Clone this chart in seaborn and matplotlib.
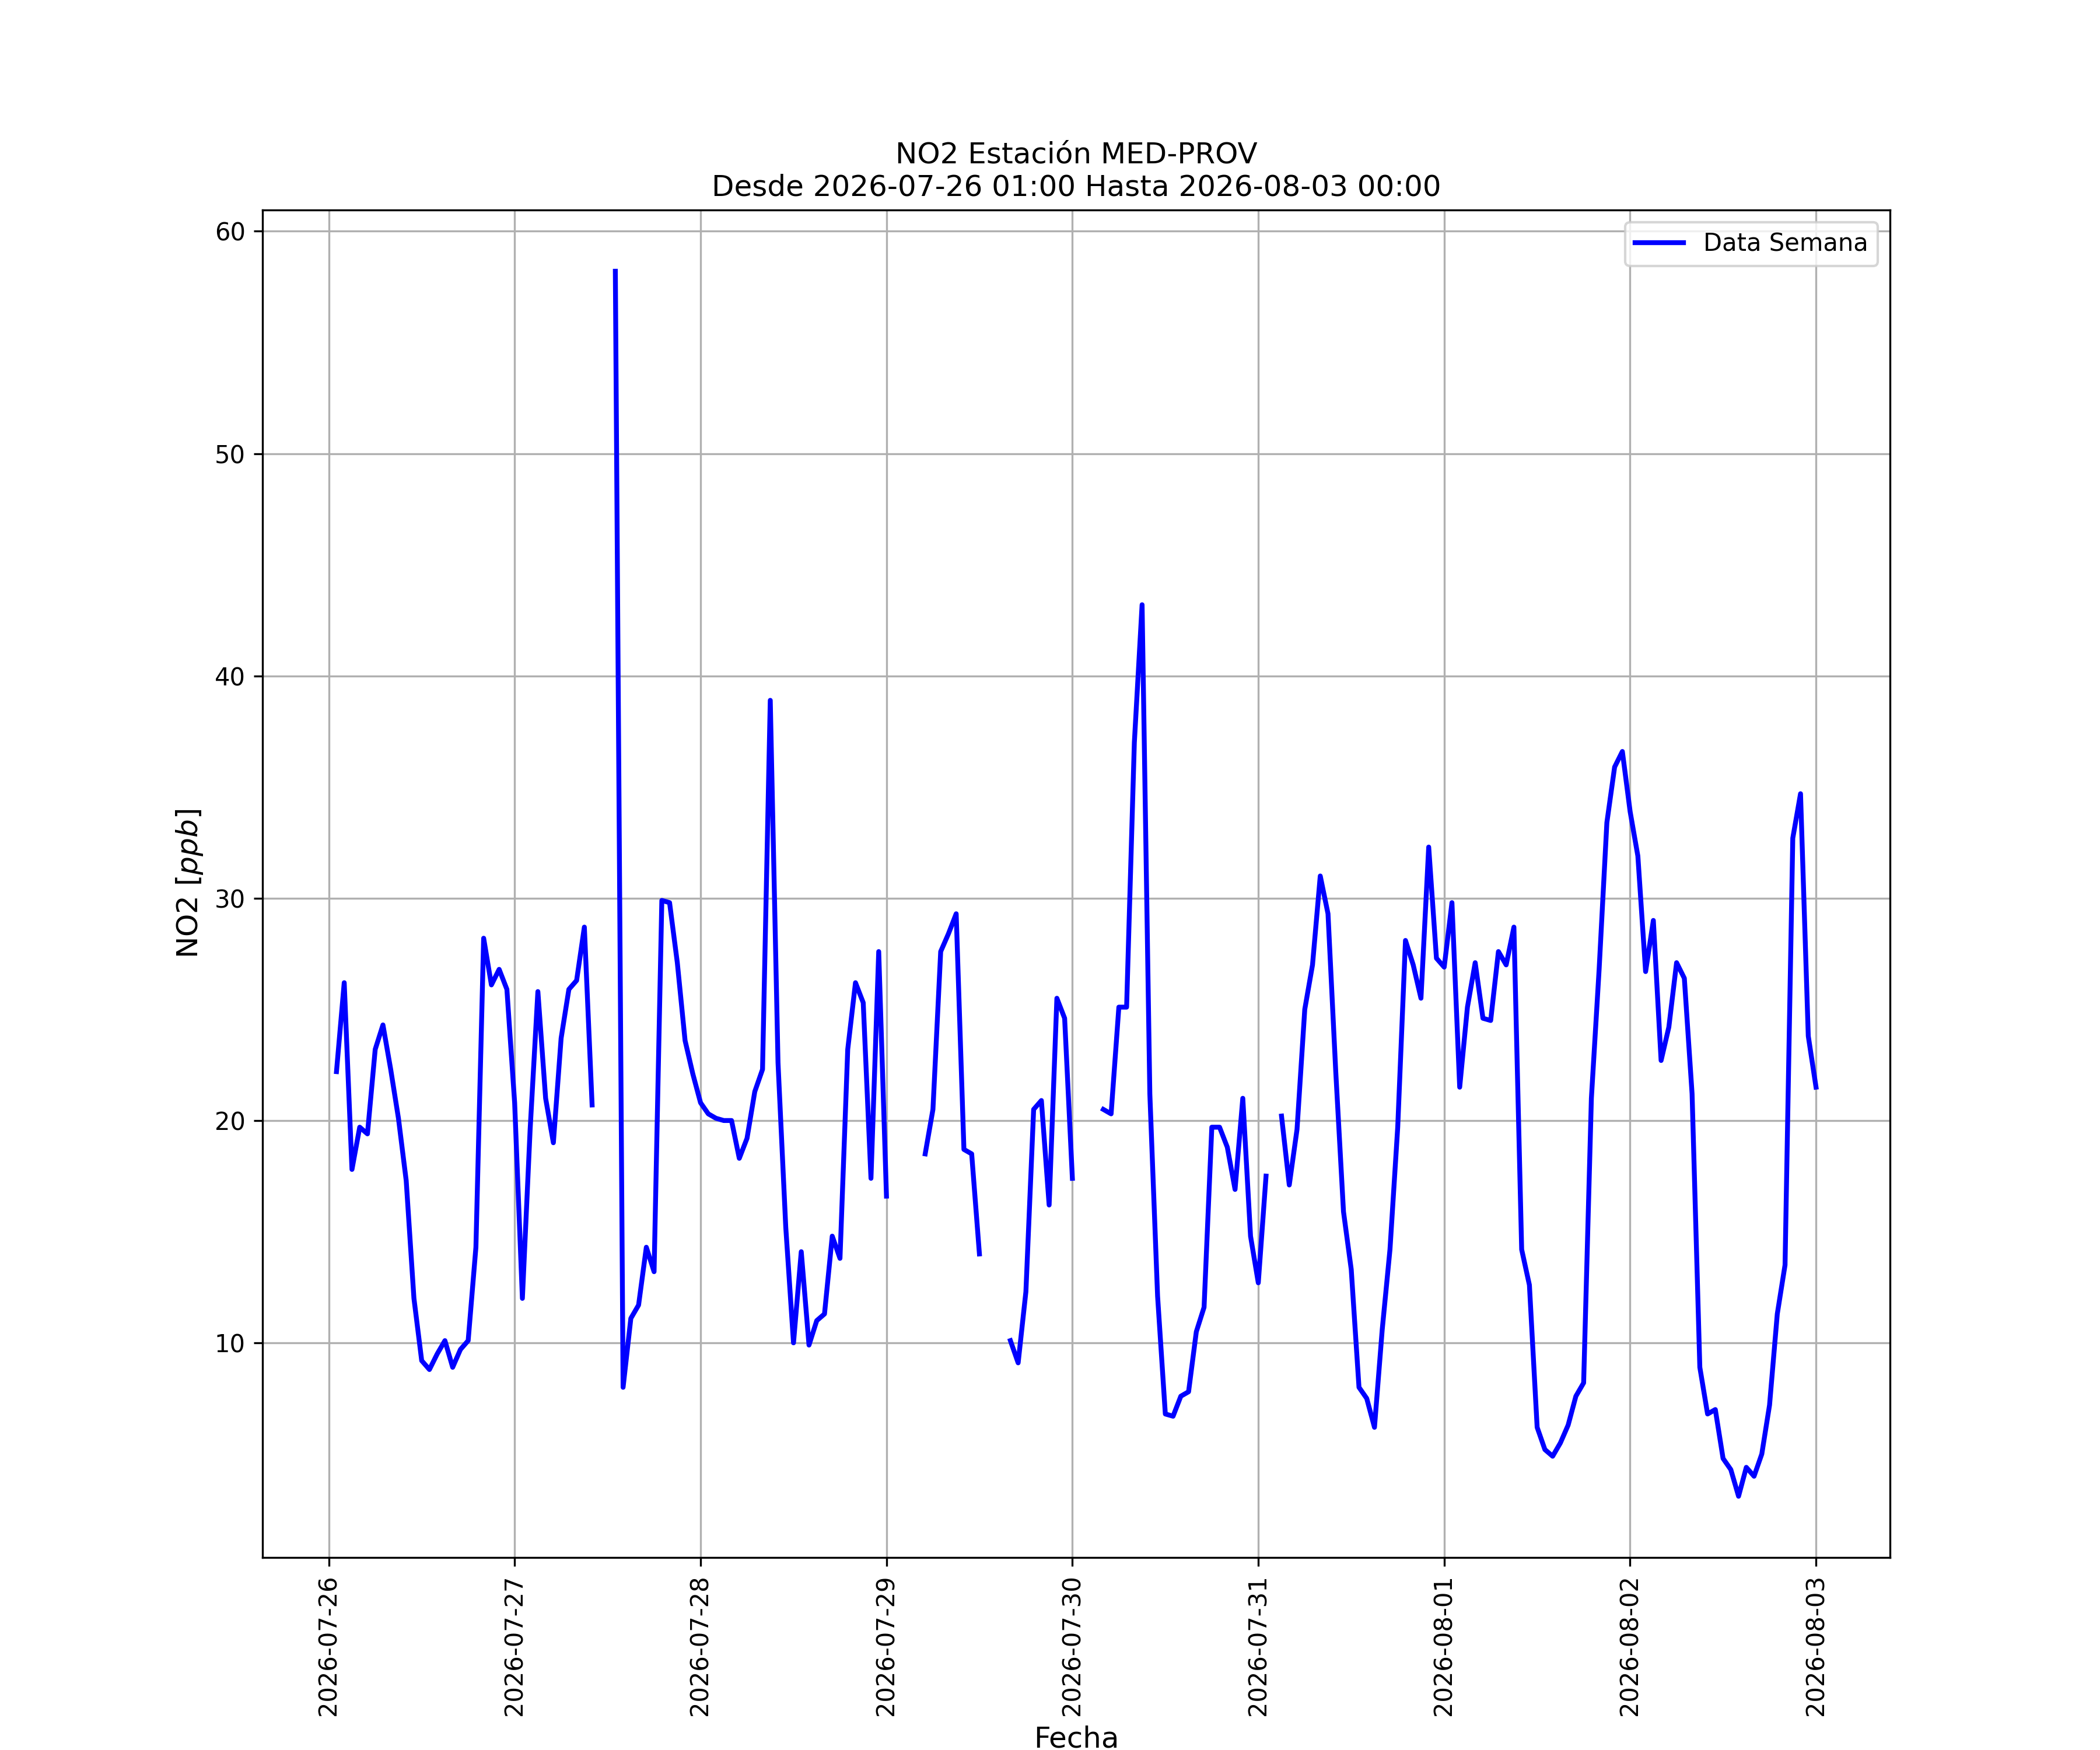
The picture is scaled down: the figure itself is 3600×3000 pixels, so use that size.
import numpy as np
import pandas as pd
import matplotlib
matplotlib.use("Agg")
import matplotlib.pyplot as plt
import matplotlib.dates as mdates
import seaborn as sns

nan = np.nan

# Hourly NO2 values (ppb), one list per day, starting 2026-07-26 01:00
dia_26 = [22.2, 26.2, 17.8, 19.7, 19.4, 23.2, 24.3, 22.3, 20.1, 17.3, 12.0, 9.2,
          8.8, 9.5, 10.1, 8.9, 9.7, 10.1, 14.3, 28.2, 26.1, 26.8, 25.9, 20.8]
dia_27 = [12.0, 19.6, 25.8, 21.0, 19.0, 23.7, 25.9, 26.3, 28.7, 20.7, nan, nan,
          58.2, 8.0, 11.1, 11.7, 14.3, 13.2, 29.9, 29.8, 27.1, 23.6, 22.1, 20.8]
dia_28 = [20.3, 20.1, 20.0, 20.0, 18.3, 19.2, 21.3, 22.3, 38.9, 22.6, 15.2, 10.0,
          14.1, 9.9, 11.0, 11.3, 14.8, 13.8, 23.2, 26.2, 25.3, 17.4, 27.6, 16.6]
dia_29 = [nan, nan, nan, nan, 18.5, 20.5, 27.6, 28.4, 29.3, 18.7, 18.5, 14.0,
          nan, nan, nan, 10.1, 9.1, 12.3, 20.5, 20.9, 16.2, 25.5, 24.6, 17.4]
dia_30 = [nan, nan, nan, 20.5, 20.3, 25.1, 25.1, 37.0, 43.2, 21.2, 12.1, 6.8,
          6.7, 7.6, 7.8, 10.5, 11.6, 19.7, 19.7, 18.8, 16.9, 21.0, 14.8, 12.7]
dia_31 = [17.5, nan, 20.2, 17.1, 19.6, 25.0, 27.0, 31.0, 29.3, 22.2, 15.9, 13.3,
          8.0, 7.5, 6.2, 10.6, 14.2, 19.7, 28.1, 27.0, 25.5, 32.3, 27.3, 26.9]
dia_01 = [29.8, 21.5, 25.1, 27.1, 24.6, 24.5, 27.6, 27.0, 28.7, 14.2, 12.6, 6.2,
          5.2, 4.9, 5.5, 6.3, 7.6, 8.2, 21.0, 26.8, 33.4, 35.9, 36.6, 33.9]
dia_02 = [31.9, 26.7, 29.0, 22.7, 24.2, 27.1, 26.4, 21.2, 8.9, 6.8, 7.0, 4.8,
          4.3, 3.1, 4.4, 4.0, 5.0, 7.2, 11.3, 13.5, 32.7, 34.7, 23.8, 21.5]

valores = dia_26 + dia_27 + dia_28 + dia_29 + dia_30 + dia_31 + dia_01 + dia_02
fechas = pd.date_range("2026-07-26 01:00", periods=len(valores), freq="h")

df = pd.DataFrame({"Fecha": fechas, "NO2": valores})
# seaborn drops missing values, so keep the gaps by giving each run its own unit
df["tramo"] = df["NO2"].isna().cumsum()
df = df.dropna(subset=["NO2"])

fig, ax = plt.subplots(figsize=(12, 10), dpi=300)

sns.lineplot(data=df, x="Fecha", y="NO2", units="tramo", estimator=None,
             ax=ax, color="blue", linewidth=2, sort=False, legend=False)

ax.grid(True)
ax.xaxis.set_major_locator(mdates.DayLocator())
ax.xaxis.set_major_formatter(mdates.DateFormatter("%Y-%m-%d"))
plt.setp(ax.get_xticklabels(), rotation=90)

ax.set_title("NO2 Estación MED-PROV\nDesde 2026-07-26 01:00 Hasta 2026-08-03 00:00", fontsize=12)
ax.set_xlabel("Fecha", fontsize=12)
ax.set_ylabel("NO2 $[ppb]$", fontsize=12)
ax.legend(handles=[ax.lines[0]], labels=["Data Semana"], loc="upper right")

fig.savefig("out.png", dpi=300)
